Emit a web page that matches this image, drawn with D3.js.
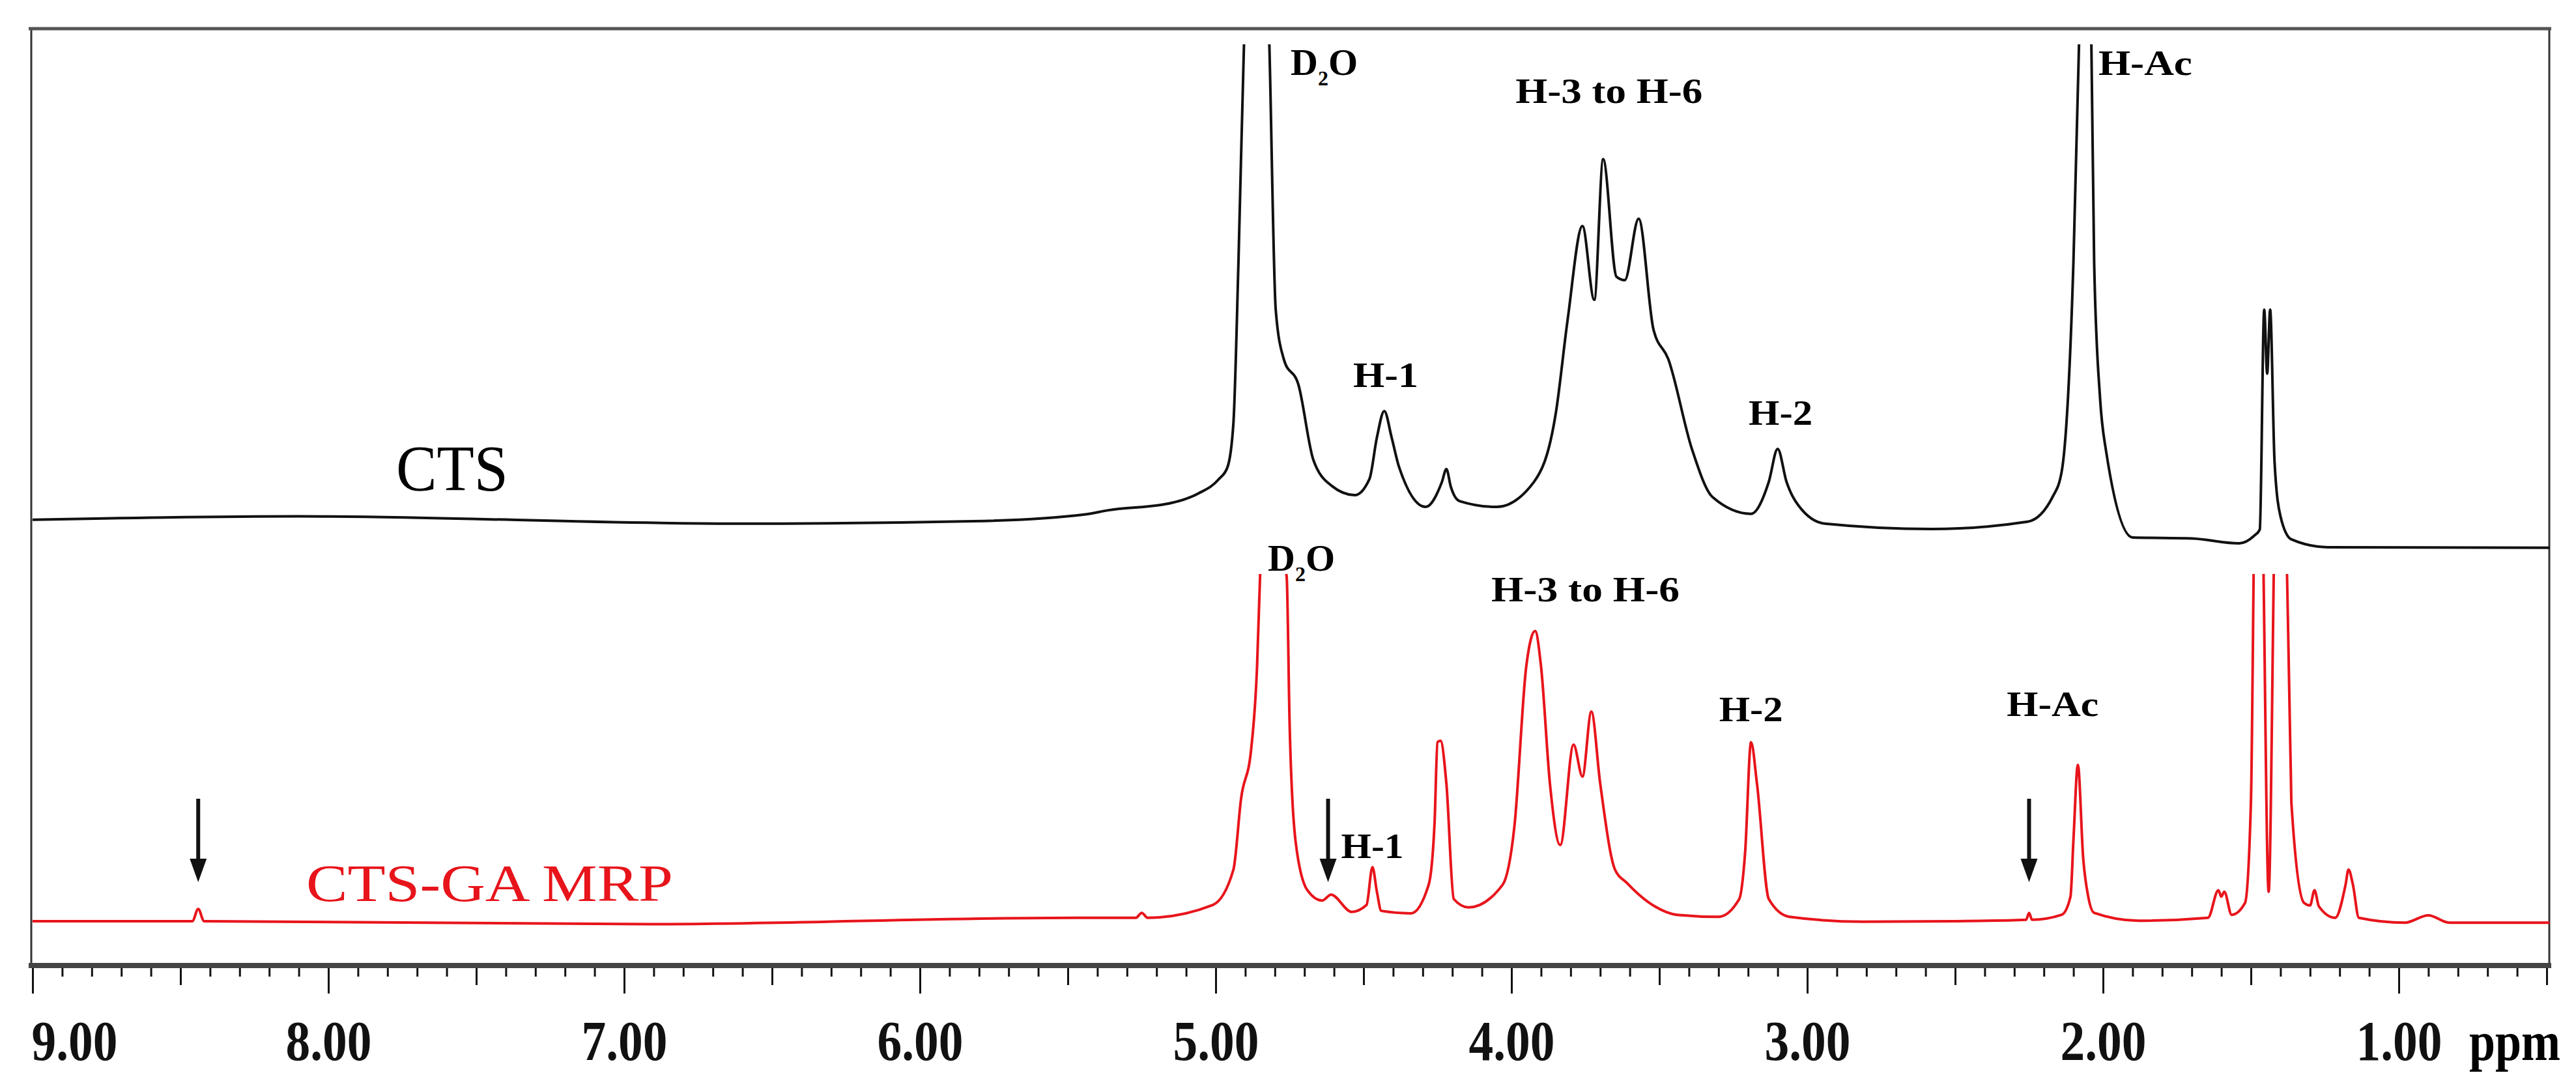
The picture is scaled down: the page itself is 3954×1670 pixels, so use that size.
<!DOCTYPE html>
<html><head><meta charset="utf-8">
<script src="https://cdn.jsdelivr.net/npm/d3@7"></script>
<style>body{margin:0;background:#fff}</style>
</head><body>
<script>
// chemical shift (ppm) and intensity readings
const ctsPpm = [9.0,8.1,6.63,5.82,5.44,5.366,5.15,5.06,4.99,4.96,4.94,4.923,4.903,4.86,4.82,4.797,4.77,4.72,4.67,4.608,4.53,4.48,4.455,4.43,4.405,4.38,4.29,4.235,4.22,4.205,4.176,4.05,3.925,3.85,3.81,3.76,3.72,3.69,3.645,3.617,3.57,3.52,3.47,3.39,3.32,3.19,3.13,3.10,3.07,3.04,2.94,2.58,2.255,2.17,2.14,2.10,2.08,2.065,2.04,2.03,2.01,1.99,1.90,1.70,1.54,1.49,1.47,1.455,1.445,1.435,1.42,1.40,1.363,1.24,0.49];
const ctsInt = [0.3,1,-0.5,0,1.4,2.2,3.7,5.6,8.5,11,20,52.7,100,140,100,43,33,27.7,12.5,7.2,5.3,8.6,17,22.4,17,11,2.9,8,10.6,7,4.1,2.9,7.9,22,41,60,45,73.6,49.7,49,61.5,39,33,14.7,4.9,1.5,8,14.7,8,4.1,-0.5,-1.6,-0.1,5,10,52.7,100,140,100,52.7,25,14.4,-3.3,-3.5,-4.5,-3,-1.7,43,30,43,12,1,-3.7,-5.3,-5.4];
const mrpPpm = [9.0,8.46,8.44,8.42,6.92,5.47,5.27,5.25,5.23,5.01,4.94,4.914,4.88,4.86,4.85,4.83,4.76,4.75,4.73,4.69,4.64,4.61,4.54,4.49,4.47,4.455,4.44,4.34,4.28,4.26,4.25,4.24,4.22,4.195,4.145,4.03,3.99,3.95,3.92,3.90,3.87,3.835,3.79,3.76,3.73,3.70,3.65,3.61,3.54,3.44,3.30,3.23,3.21,3.19,3.17,3.13,3.06,2.81,2.50,2.26,2.25,2.24,2.14,2.11,2.10,2.085,2.067,2.05,2.03,1.88,1.645,1.61,1.60,1.59,1.565,1.52,1.50,1.485,1.475,1.465,1.44,1.415,1.39,1.365,1.363,1.32,1.30,1.285,1.27,1.215,1.18,1.17,1.155,1.135,0.98,0.90,0.83,0.49];
const mrpInt = [0,0,2.5,0,-0.6,0.7,0.7,1.7,0.7,3.3,10.5,25,35,52,70,90,70,40,16.3,6.3,4.2,5.4,1.9,3.3,11,6,2.1,1.6,7.4,20,36.4,36.7,28,4.5,2.8,7.4,19.3,51.8,59,51.8,28,15.5,35.9,29.4,42.6,28,10.5,7.8,4,1.3,0.9,4.5,14,36.4,28,4.5,0.9,-0.1,0,0.3,1.7,0.3,1.3,5,16.5,31.8,12.8,5,1.7,0.1,0.7,6.3,5,6,1.3,3.7,24,90,90,90,6,90,90,30,24,3.7,3.2,6.3,3,0.7,7.4,10.5,7.4,0.7,-0.3,1.2,-0.3,-0.3];
const majorTicks = [9,8,7,6,5,4,3,2,1];
const tickLabels = ["9.00","8.00","7.00","6.00","5.00","4.00","3.00","2.00","1.00"];
const topLabels = [
  {t:"H-3 to H-6",p:3.67,y:158,w:287},{t:"H-1",p:4.425,y:594,w:100},
  {t:"H-2",p:3.09,y:652,w:98},{t:"H-Ac",p:1.857,y:115,w:144}];
const botLabels = [
  {t:"H-3 to H-6",p:3.75,y:923,w:289},{t:"H-1",p:4.47,y:1317,w:96},
  {t:"H-2",p:3.19,y:1107,w:98},{t:"H-Ac",p:2.17,y:1099,w:141}];
const arrowPpm = [8.44,4.62,2.25];

const W=3954,H=1670;
const svg=d3.select("body").append("svg").attr("width",W).attr("height",H)
  .style("font-family","'Liberation Serif','Times New Roman',serif");
const x=d3.scaleLinear().domain([9,1]).range([50,3682]);
const yTop=d3.scaleLinear().domain([0,100]).range([800,45]);
const yBot=d3.scaleLinear().domain([0,100]).range([1414,659]);
const axisY=1482;

const defs=svg.append("defs");
defs.append("clipPath").attr("id","cTop").append("rect").attr("x",48).attr("y",68).attr("width",3866).attr("height",1400);
defs.append("clipPath").attr("id","cBot").append("rect").attr("x",48).attr("y",881).attr("width",3866).attr("height",590);

// frame
svg.append("path").attr("d",`M48,${axisY} V44 H3913 V${axisY}`).attr("fill","none").attr("stroke","#333").attr("stroke-width",3);
svg.append("line").attr("x1",44).attr("x2",3916).attr("y1",44).attr("y2",44).attr("stroke","#555").attr("stroke-width",5);

const lineTop=d3.line().curve(d3.curveMonotoneX).x(d=>x(d[0])).y(d=>yTop(d[1]));
const lineBot=d3.line().curve(d3.curveMonotoneX).x(d=>x(d[0])).y(d=>yBot(d[1]));
svg.append("path").datum(d3.zip(ctsPpm,ctsInt).reverse()).attr("d",lineTop).attr("clip-path","url(#cTop)")
  .attr("fill","none").attr("stroke","#111").attr("stroke-width",4).attr("stroke-linejoin","round");
svg.append("path").datum(d3.zip(mrpPpm,mrpInt).reverse()).attr("d",lineBot).attr("clip-path","url(#cBot)")
  .attr("fill","none").attr("stroke","#e8141b").attr("stroke-width",4).attr("stroke-linejoin","round");

// axes
const minor=d3.range(90,4,-1).map(v=>v/10).filter(v=>v>=0.5);
const mid=[8.5,7.5,6.5,5.5,4.5,3.5,2.5,1.5,0.5];
function ax(vals,size,fmt){
  const g=svg.append("g").attr("transform",`translate(0,${axisY})`)
    .call(d3.axisBottom(x).tickValues(vals).tickSize(size).tickFormat(fmt||(()=>"")));
  g.select(".domain").remove();
  g.selectAll(".tick line").attr("stroke","#111").attr("stroke-width",3);
  return g;
}
ax(minor,17); ax(mid,30);
const gM=ax(majorTicks,43,(d,i)=>tickLabels[i]);
gM.selectAll("text").attr("y",0).attr("dy",0).attr("transform","translate(0,145)")
  .attr("font-size",86).attr("font-weight","bold").attr("fill","#111").attr("font-family","'Liberation Serif',serif")
  .attr("textLength",132).attr("lengthAdjust","spacingAndGlyphs");
gM.selectAll(".tick").filter(d=>d===9).select("text").attr("text-anchor","start").attr("x",-2);
svg.append("line").attr("x1",44).attr("x2",3916).attr("y1",axisY).attr("y2",axisY).attr("stroke","#444").attr("stroke-width",8);
svg.append("text").attr("x",3790).attr("y",1627).attr("font-size",84).attr("font-weight","bold")
  .attr("textLength",140).attr("lengthAdjust","spacingAndGlyphs").text("ppm");

// labels
function lab(d){
  svg.append("text").attr("x",x(d.p)).attr("y",d.y).attr("text-anchor","middle").attr("font-weight","bold")
    .attr("font-size",54).attr("textLength",d.w).attr("lengthAdjust","spacingAndGlyphs").text(d.t);
}
topLabels.forEach(lab); botLabels.forEach(lab);
function d2o(xl,yb){
  const t=svg.append("text").attr("x",xl).attr("y",yb).attr("font-weight","bold").attr("font-size",58);
  t.append("tspan").text("D");
  t.append("tspan").attr("font-size",32).attr("dy",16).text("2");
  t.append("tspan").attr("dy",-16).text("O");
}
d2o(1981,115); d2o(1946,876);
svg.append("text").attr("x",608).attr("y",752).attr("font-size",100).attr("textLength",172).attr("lengthAdjust","spacingAndGlyphs").text("CTS");
svg.append("text").attr("x",470).attr("y",1383).attr("font-size",80).attr("fill","#e8141b").attr("textLength",563).attr("lengthAdjust","spacingAndGlyphs").text("CTS-GA MRP");

// arrows
arrowPpm.forEach(p=>{
  const xx=x(p);
  svg.append("line").attr("x1",xx).attr("x2",xx).attr("y1",1226).attr("y2",1330).attr("stroke","#111").attr("stroke-width",6);
  svg.append("path").attr("d",`M${xx-13},${1318} L${xx+13},${1318} L${xx},${1354} Z`).attr("fill","#111");
});
</script>
</body></html>
